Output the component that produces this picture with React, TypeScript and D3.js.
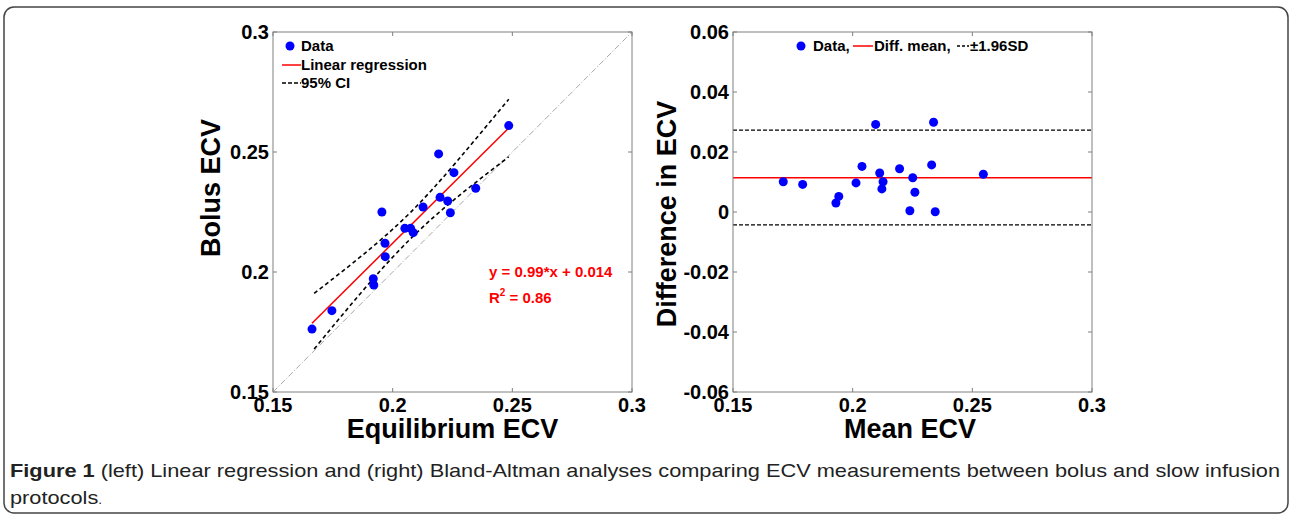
import React, { useRef, useEffect } from 'react';
import * as d3 from 'd3';

// values
const equilibriumECV = [0.2485, 0.2192, 0.2256, 0.2347, 0.2198, 0.223, 0.2127, 0.1955, 0.2241, 0.2051, 0.2075, 0.2086, 0.1968, 0.1969, 0.1919, 0.1921, 0.1746, 0.1663];
const bolusECV = [0.261, 0.2492, 0.2414, 0.2349, 0.2311, 0.2296, 0.2271, 0.225, 0.2247, 0.2182, 0.2182, 0.2164, 0.212, 0.2064, 0.1972, 0.1946, 0.1839, 0.1762];

const fitSlope = 0.99;
const fitIntercept = 0.014;
const fitRange = [0.1663, 0.2485];

const ciX = [0.1672, 0.187, 0.207, 0.227, 0.2485];
const ciUpper = [0.1911, 0.2067, 0.2244, 0.2463, 0.272];
const ciLower = [0.1679, 0.1916, 0.2134, 0.2312, 0.248];

const meanECV = [0.171, 0.1791, 0.193, 0.1942, 0.2014, 0.2039, 0.2096, 0.2113, 0.2127, 0.2122, 0.2196, 0.2251, 0.226, 0.2239, 0.233, 0.2338, 0.2345, 0.2546];
const diffECV = [0.0101, 0.0092, 0.003, 0.0052, 0.0097, 0.0152, 0.0292, 0.013, 0.0101, 0.0077, 0.0144, 0.0114, 0.0066, 0.0004, 0.0157, 0.0299, 0.0001, 0.0126];
const diffMean = 0.0114;
const diffUpper = 0.0273;
const diffLower = -0.0043;

const xTicks = [0.15, 0.2, 0.25, 0.3];
const xTickLabels = ['0.15', '0.2', '0.25', '0.3'];
const yTicksLeft = [0.15, 0.2, 0.25, 0.3];
const yTickLabelsLeft = ['0.15', '0.2', '0.25', '0.3'];
const yTicksRight = [-0.06, -0.04, -0.02, 0, 0.02, 0.04, 0.06];
const yTickLabelsRight = ['-0.06', '-0.04', '-0.02', '0', '0.02', '0.04', '0.06'];

const FONT = '"Liberation Sans", Arial, sans-serif';
const CAPTION_FONT = '"Liberation Sans Narrow", "Liberation Sans", Arial, sans-serif';
const BLUE = '#0000ff';
const RED = '#ff0000';

const W = 1290;
const H = 516;

function drawFrame(g, x, y, xt, xl, yt, yl) {
  const [x0, x1] = x.range();
  const [y0, y1] = y.range();
  g.append('rect')
    .attr('x', x0).attr('y', y1)
    .attr('width', x1 - x0).attr('height', y0 - y1)
    .attr('fill', 'none').attr('stroke', '#808080').attr('stroke-width', 1);

  // inner ticks on all four sides, matlab style
  xt.forEach(t => {
    const px = x(t);
    g.append('line').attr('x1', px).attr('x2', px).attr('y1', y0).attr('y2', y0 - 4).attr('stroke', '#808080');
    g.append('line').attr('x1', px).attr('x2', px).attr('y1', y1).attr('y2', y1 + 4).attr('stroke', '#808080');
  });
  yt.forEach(t => {
    const py = y(t);
    g.append('line').attr('x1', x0).attr('x2', x0 + 4).attr('y1', py).attr('y2', py).attr('stroke', '#808080');
    g.append('line').attr('x1', x1).attr('x2', x1 - 4).attr('y1', py).attr('y2', py).attr('stroke', '#808080');
  });

  xt.forEach((t, i) => {
    g.append('text')
      .attr('x', x(t)).attr('y', y0 + 20)
      .attr('text-anchor', 'middle')
      .attr('font-family', FONT).attr('font-weight', 'bold').attr('font-size', 20)
      .attr('fill', '#000')
      .text(xl[i]);
  });
  yt.forEach((t, i) => {
    g.append('text')
      .attr('x', x0 - 4).attr('y', y(t) + 7)
      .attr('text-anchor', 'end')
      .attr('font-family', FONT).attr('font-weight', 'bold').attr('font-size', 20)
      .attr('fill', '#000')
      .text(yl[i]);
  });
}

const App = () => {
  const ref = useRef(null);

  useEffect(() => {
    const svg = d3.select(ref.current);
    svg.selectAll('*').remove();

    // outer rounded panel
    svg.append('rect')
      .attr('x', 4).attr('y', 7).attr('width', 1284).attr('height', 506)
      .attr('rx', 10).attr('fill', '#fff').attr('stroke', '#444').attr('stroke-width', 1.5);

    // ---------- left: linear regression ----------
    const xL = d3.scaleLinear().domain([0.15, 0.3]).range([273, 632]);
    const yL = d3.scaleLinear().domain([0.15, 0.3]).range([392, 32]);
    const gL = svg.append('g');

    // identity line
    gL.append('line')
      .attr('x1', xL(0.15)).attr('y1', yL(0.15))
      .attr('x2', xL(0.3)).attr('y2', yL(0.3))
      .attr('stroke', '#a8a8a8').attr('stroke-width', 1)
      .attr('stroke-dasharray', '6,2,1,2');

    const ciLine = d3.line().x(d => xL(d[0])).y(d => yL(d[1])).curve(d3.curveNatural);
    [ciUpper, ciLower].forEach(arr => {
      gL.append('path')
        .datum(ciX.map((v, i) => [v, arr[i]]))
        .attr('d', ciLine)
        .attr('fill', 'none').attr('stroke', '#000').attr('stroke-width', 1.6)
        .attr('stroke-dasharray', '4,3');
    });

    gL.append('line')
      .attr('x1', xL(fitRange[0])).attr('y1', yL(fitSlope * fitRange[0] + fitIntercept))
      .attr('x2', xL(fitRange[1])).attr('y2', yL(fitSlope * fitRange[1] + fitIntercept))
      .attr('stroke', RED).attr('stroke-width', 1.5);

    gL.selectAll('circle.pt')
      .data(equilibriumECV.map((v, i) => [v, bolusECV[i]]))
      .enter().append('circle')
      .attr('cx', d => xL(d[0])).attr('cy', d => yL(d[1]))
      .attr('r', 4.5).attr('fill', BLUE);

    drawFrame(gL, xL, yL, xTicks, xTickLabels, yTicksLeft, yTickLabelsLeft);

    // legend
    const lg = gL.append('g').attr('font-family', FONT).attr('font-weight', 'bold').attr('font-size', 15);
    lg.append('circle').attr('cx', 290).attr('cy', 46).attr('r', 4.5).attr('fill', BLUE);
    lg.append('text').attr('x', 301).attr('y', 51).text('Data');
    lg.append('line').attr('x1', 282).attr('x2', 301).attr('y1', 65).attr('y2', 65).attr('stroke', RED).attr('stroke-width', 1.5);
    lg.append('text').attr('x', 301).attr('y', 70).text('Linear regression');
    lg.append('line').attr('x1', 282).attr('x2', 301).attr('y1', 83).attr('y2', 83).attr('stroke', '#000').attr('stroke-width', 1.5).attr('stroke-dasharray', '4,2');
    lg.append('text').attr('x', 301).attr('y', 88).text('95% CI');

    const eq = gL.append('g').attr('font-family', FONT).attr('font-weight', 'bold').attr('font-size', 15).attr('fill', RED);
    eq.append('text').attr('x', 489).attr('y', 277).text('y = 0.99*x + 0.014');
    const r2 = eq.append('text').attr('x', 489).attr('y', 303);
    r2.append('tspan').text('R');
    r2.append('tspan').attr('font-size', 10).attr('dy', -7).text('2');
    r2.append('tspan').attr('dy', 7).text(' = 0.86');

    gL.append('text')
      .attr('x', (273 + 632) / 2).attr('y', 438)
      .attr('text-anchor', 'middle')
      .attr('font-family', FONT).attr('font-weight', 'bold').attr('font-size', 27)
      .text('Equilibrium ECV');
    gL.append('text')
      .attr('transform', 'translate(220,188) rotate(-90)')
      .attr('text-anchor', 'middle')
      .attr('font-family', FONT).attr('font-weight', 'bold').attr('font-size', 27)
      .text('Bolus ECV');

    // ---------- right: Bland-Altman ----------
    const xR = d3.scaleLinear().domain([0.15, 0.3]).range([733, 1092]);
    const yR = d3.scaleLinear().domain([-0.06, 0.06]).range([392, 32]);
    const gR = svg.append('g');

    [diffUpper, diffLower].forEach(v => {
      gR.append('line')
        .attr('x1', xR(0.15)).attr('x2', xR(0.3))
        .attr('y1', yR(v)).attr('y2', yR(v))
        .attr('stroke', '#000').attr('stroke-width', 1.2).attr('stroke-dasharray', '4,2');
    });
    gR.append('line')
      .attr('x1', xR(0.15)).attr('x2', xR(0.3))
      .attr('y1', yR(diffMean)).attr('y2', yR(diffMean))
      .attr('stroke', RED).attr('stroke-width', 1.5);

    gR.selectAll('circle.pt')
      .data(meanECV.map((v, i) => [v, diffECV[i]]))
      .enter().append('circle')
      .attr('cx', d => xR(d[0])).attr('cy', d => yR(d[1]))
      .attr('r', 4.5).attr('fill', BLUE);

    drawFrame(gR, xR, yR, xTicks, xTickLabels, yTicksRight, yTickLabelsRight);

    const rg = gR.append('g').attr('font-family', FONT).attr('font-weight', 'bold').attr('font-size', 15);
    rg.append('circle').attr('cx', 801).attr('cy', 46).attr('r', 4.5).attr('fill', BLUE);
    rg.append('text').attr('x', 813).attr('y', 51).text('Data,');
    rg.append('line').attr('x1', 853).attr('x2', 873).attr('y1', 46).attr('y2', 46).attr('stroke', RED).attr('stroke-width', 1.5);
    rg.append('text').attr('x', 874).attr('y', 51).text('Diff. mean,');
    rg.append('line').attr('x1', 957).attr('x2', 969).attr('y1', 46).attr('y2', 46).attr('stroke', '#000').attr('stroke-width', 1.5).attr('stroke-dasharray', '3,2');
    rg.append('text').attr('x', 970).attr('y', 51).text('±1.96SD');

    gR.append('text')
      .attr('x', 910).attr('y', 438)
      .attr('text-anchor', 'middle')
      .attr('font-family', FONT).attr('font-weight', 'bold').attr('font-size', 27)
      .text('Mean ECV');
    gR.append('text')
      .attr('transform', 'translate(676,214) rotate(-90)')
      .attr('text-anchor', 'middle')
      .attr('font-family', FONT).attr('font-weight', 'bold').attr('font-size', 27)
      .text('Difference in ECV');

    // ---------- caption ----------
    const cap = svg.append('text')
      .attr('x', 10).attr('y', 477)
      .attr('font-family', CAPTION_FONT)
      .attr('font-size', 19).attr('fill', '#222');
    cap.append('tspan').attr('font-weight', 'bold').text('Figure 1');
    cap.append('tspan').text(' (left) Linear regression and (right) Bland-Altman analyses comparing ECV measurements between bolus and slow infusion');
    const natural = cap.node().getComputedTextLength();
    const squeeze = 1270 / natural;
    cap.attr('textLength', 1270).attr('lengthAdjust', 'spacingAndGlyphs');

    const cap2 = svg.append('text')
      .attr('x', 10).attr('y', 504)
      .attr('font-family', CAPTION_FONT)
      .attr('font-size', 19).attr('fill', '#222');
    cap2.append('tspan').text('protocols');
    cap2.append('tspan').attr('font-size', 12).text('.');
    const natural2 = cap2.node().getComputedTextLength();
    cap2.attr('textLength', natural2 * squeeze).attr('lengthAdjust', 'spacingAndGlyphs');
  }, []);

  return (
    <svg ref={ref} width={W} height={H} style={{ position: 'absolute', left: 0, top: 0, background: '#fff' }} />
  );
};

export default App;
